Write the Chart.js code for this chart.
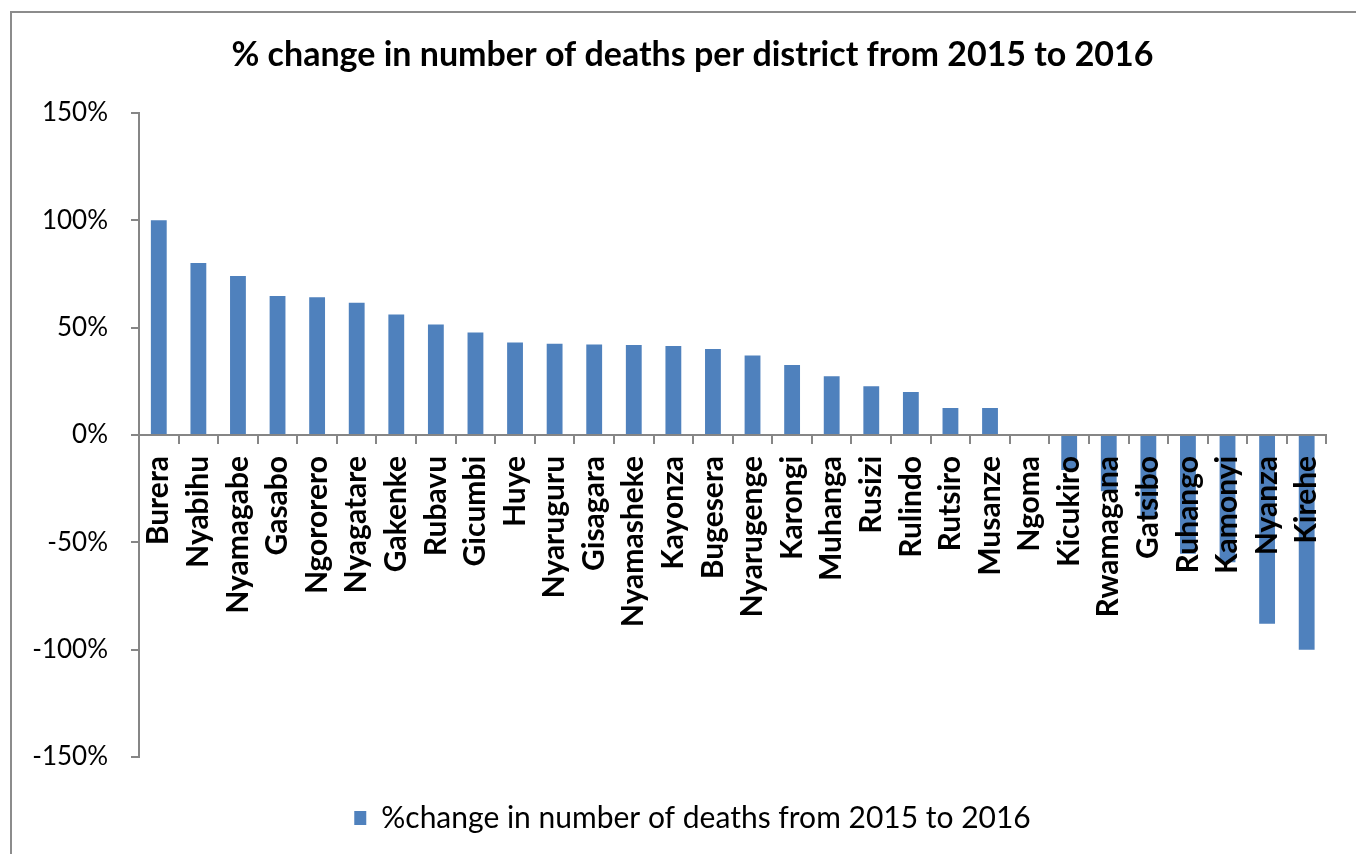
<!DOCTYPE html>
<html>
<head>
<meta charset="utf-8">
<title>% change in number of deaths per district</title>
<script src="https://cdn.jsdelivr.net/npm/chart.js@4.4.1/dist/chart.umd.min.js"></script>
<style>
  html, body { margin: 0; padding: 0; background: #fff; }
  #wrap { position: relative; width: 1356px; height: 854px; overflow: hidden; }
  #frame {
    position: absolute; left: 10px; top: 11px; width: 2000px; height: 2000px;
    border-left: 2px solid #8c8c8c; border-top: 2px solid #8c8c8c;
    pointer-events: none;
  }
  #deaths-chart { position: absolute; left: 0; top: 0; }
</style>
</head>
<body>
<div id="wrap">
  <div id="frame"></div>
  <canvas id="deaths-chart"></canvas>
</div>
<script>
const districts = [
  'Burera', 'Nyabihu', 'Nyamagabe', 'Gasabo', 'Ngororero', 'Nyagatare',
  'Gakenke', 'Rubavu', 'Gicumbi', 'Huye', 'Nyaruguru', 'Gisagara',
  'Nyamasheke', 'Kayonza', 'Bugesera', 'Nyarugenge', 'Karongi', 'Muhanga',
  'Rusizi', 'Rulindo', 'Rutsiro', 'Musanze', 'Ngoma', 'Kicukiro',
  'Rwamagana', 'Gatsibo', 'Ruhango', 'Kamonyi', 'Nyanza', 'Kirehe'
];
// percent change, 2015 -> 2016
const pctChange = [
  100, 80, 74, 64.7, 64.1, 61.5,
  56.1, 51.4, 47.7, 43, 42.4, 42.1,
  41.9, 41.4, 40, 37, 32.5, 27.3,
  22.7, 20, 12.5, 12.5, 0, -16.3,
  -26.2, -38.7, -55.4, -59.3, -88, -100
];
const yTicks = [-150, -100, -50, 0, 50, 100, 150];

const seriesName = '%change in number of deaths from 2015 to 2016';
const chartTitle = '% change in number of deaths per district from 2015 to 2016';
const barColor = '#4f81bd';
const axisGray = '#868686';
const fontFamily = 'Lato, "Open Sans", sans-serif';

// let the y tick labels use the space left of the layout padding
const widenYLabels = {
  id: 'widenYLabels',
  afterLayout(chart) {
    chart.scales.y.left = 0;
  }
};

const canvas = document.getElementById('deaths-chart');
canvas.width = 1356;
canvas.height = 854;

new Chart(canvas, {
  type: 'bar',
  data: {
    labels: districts,
    datasets: [{
      label: seriesName,
      data: pctChange,
      backgroundColor: barColor,
      borderWidth: 0,
      categoryPercentage: 1,
      barPercentage: 0.4
    }]
  },
  plugins: [widenYLabels],
  options: {
    responsive: false,
    animation: false,
    layout: { padding: { left: 48, right: 19, top: 0, bottom: 11 } },
    plugins: {
      tooltip: { enabled: false },
      title: {
        display: true,
        text: chartTitle,
        color: '#000',
        font: { family: fontFamily, size: 34, weight: 'bold' },
        padding: { top: 35, bottom: 37 }
      },
      legend: {
        position: 'bottom',
        labels: {
          color: '#000',
          font: { family: fontFamily, size: 30 },
          boxWidth: 12,
          boxHeight: 14,
          padding: 46
        }
      }
    },
    scales: {
      x: {
        position: { y: 0 },
        grid: {
          display: true,
          drawOnChartArea: false,
          tickLength: 8,
          color: axisGray,
          lineWidth: 2,
          z: 1
        },
        border: { color: axisGray, width: 2, z: 1 },
        ticks: {
          z: 2,
          autoSkip: false,
          minRotation: 90,
          maxRotation: 90,
          padding: 13,
          color: '#000',
          font: { family: fontFamily, size: 30, weight: 'bold' }
        }
      },
      y: {
        min: -150,
        max: 150,
        afterBuildTicks: (scale) => {
          scale.ticks = yTicks.map(v => ({ value: v }));
        },
        afterFit: (scale) => {
          // axis line sits at x = 139
          scale.width = 139 - 48;
        },
        grid: {
          display: true,
          drawOnChartArea: false,
          tickLength: 8,
          color: axisGray,
          lineWidth: 2
        },
        border: { color: axisGray, width: 2 },
        ticks: {
          padding: 23,
          color: '#000',
          font: { family: fontFamily, size: 26 },
          callback: (value) => value + '%'
        }
      }
    }
  }
});
</script>
</body>
</html>
